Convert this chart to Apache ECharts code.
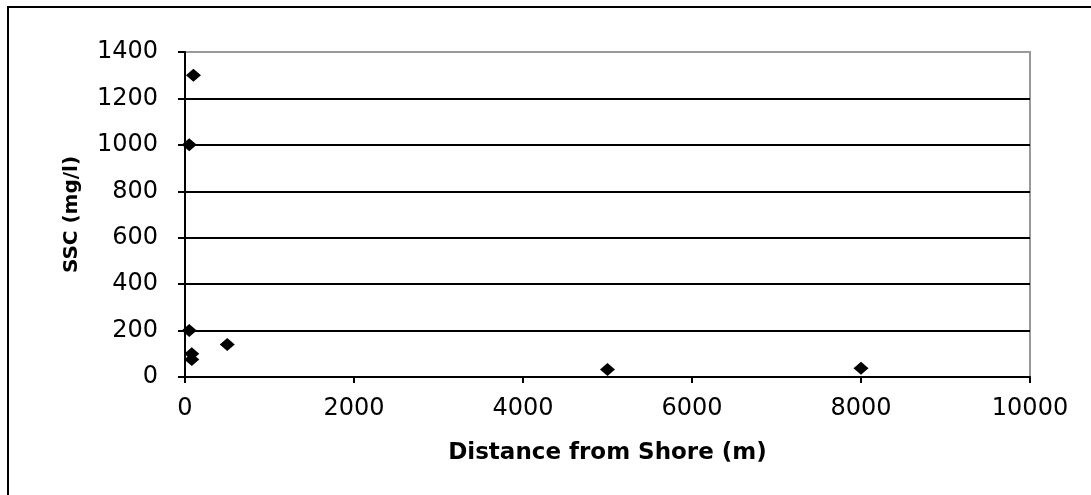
<!DOCTYPE html>
<html>
<head>
<meta charset="utf-8">
<script src="https://cdn.jsdelivr.net/npm/echarts@6/dist/echarts.min.js"></script>
<style>
html,body{margin:0;padding:0;background:#fff;}
#c{width:1091px;height:495px;}
</style>
</head>
<body>
<div id="c"></div>
<script>
var distance = [100, 50, 50, 80, 80, 500, 5000, 8000];
var ssc = [1300, 1000, 200, 100, 75, 140, 32, 38];
var xTicks = [0, 2000, 4000, 6000, 8000, 10000];
var yTicks = [0, 200, 400, 600, 800, 1000, 1200, 1400];
var xTitle = 'Distance from Shore (m)';
var yTitle = 'SSC (mg/l)';

var points = distance.map(function (d, i) { return [d, ssc[i]]; });
var font = 'DejaVu Sans';
var chart = echarts.init(document.getElementById('c'));
chart.setOption({
  animation: false,
  backgroundColor: '#fff',
  graphic: [{
    type: 'rect',
    shape: { x: 8, y: 7, width: 1100, height: 510 },
    style: { fill: 'none', stroke: '#000', lineWidth: 2 },
    silent: true
  }],
  grid: {
    left: 185, top: 52, width: 845, height: 325,
    show: true, borderColor: '#999', borderWidth: 2, backgroundColor: 'transparent'
  },
  xAxis: {
    type: 'value',
    min: xTicks[0], max: xTicks[xTicks.length - 1], interval: 2000,
    name: xTitle, nameLocation: 'middle', nameGap: 65,
    nameTextStyle: { fontFamily: font, fontWeight: 'bold', fontSize: 23, color: '#000' },
    axisLine: { show: true, onZero: false, lineStyle: { color: '#000', width: 2 } },
    axisTick: { show: true, length: 6, lineStyle: { color: '#000', width: 2 } },
    axisLabel: { fontFamily: font, fontSize: 24, color: '#000', margin: 20, formatter: function (v) { return String(v); } },
    splitLine: { show: false }
  },
  yAxis: {
    type: 'value',
    min: yTicks[0], max: yTicks[yTicks.length - 1], interval: 200,
    name: yTitle, nameLocation: 'middle', nameGap: 103,
    nameTextStyle: { fontFamily: font, fontWeight: 'bold', fontSize: 20, color: '#000' },
    axisLine: { show: true, onZero: false, lineStyle: { color: '#000', width: 2 } },
    axisTick: { show: true, length: 7, lineStyle: { color: '#000', width: 2 } },
    axisLabel: { fontFamily: font, fontSize: 24, color: '#000', margin: 27, formatter: function (v) { return String(v); } },
    splitLine: { show: true, lineStyle: { color: ['#000','#000','#000','#000','#000','#000','#000','#999'], width: 2 } }
  },
  series: [{
    type: 'scatter',
    data: points,
    symbol: 'diamond',
    symbolSize: [15, 13],
    itemStyle: { color: '#000', opacity: 1 }
  }]
});
</script>
</body>
</html>
